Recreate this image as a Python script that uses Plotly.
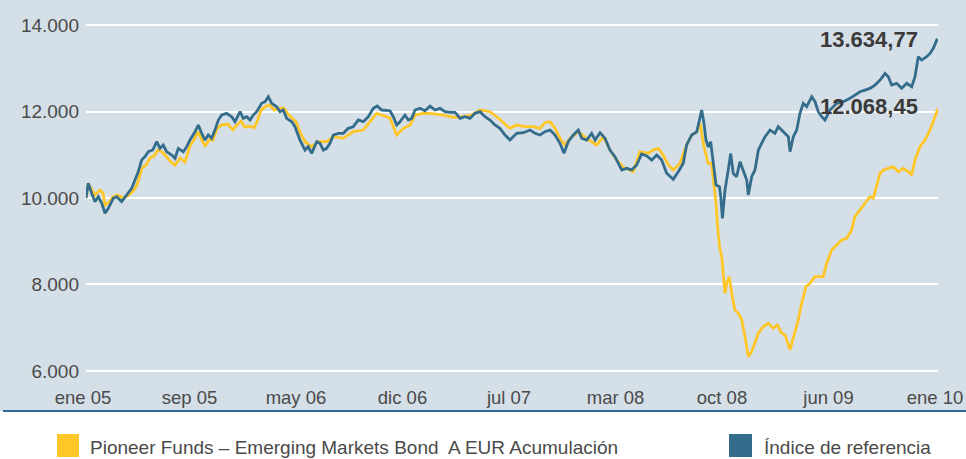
import plotly.graph_objects as go

# ---- data (months since ene 05) ----
fondo_nombre = "Pioneer Funds – Emerging Markets Bond  A EUR Acumulación"
indice_nombre = "Índice de referencia"

meses_fondo = [0.0, 0.16, 0.42, 0.63, 0.99, 1.20, 1.34, 1.62, 1.90, 2.25, 2.61, 2.96, 3.31, 3.59, 3.94, 4.23,
               4.51, 4.79, 5.07, 5.35, 5.56, 5.92, 6.27, 6.62, 6.97, 7.32, 7.68, 7.89, 8.17, 8.38, 8.66, 8.94,
               9.23, 9.58, 10.00, 10.35, 10.63, 10.92, 11.20, 11.55, 11.83, 12.04, 12.32, 12.68, 12.96, 13.24,
               13.66, 13.94, 14.23, 14.51, 14.79, 15.07, 15.42, 15.89, 16.36, 16.95, 17.42, 18.12, 18.82, 19.53,
               20.00, 20.47, 21.18, 21.41, 21.88, 22.35, 22.82, 23.17, 23.75, 24.23, 25.16, 25.87, 26.57, 27.16,
               27.75, 28.45, 28.92, 29.63, 29.86, 30.33, 30.92, 31.50, 31.97, 32.32, 32.68, 33.03, 33.38, 33.73,
               34.08, 34.67, 35.26, 35.96, 36.43, 36.90, 37.37, 37.84, 38.54, 39.01, 39.60, 39.94, 40.30, 40.65,
               41.01, 41.36, 41.83, 42.30, 42.65, 43.01, 43.24, 43.52, 43.82, 44.06, 44.23, 44.37, 44.46, 44.61,
               44.77, 44.89, 45.00, 45.12, 45.30, 45.47, 45.70, 45.94, 46.18, 46.41, 46.64, 46.88, 47.11, 47.35,
               47.70, 48.05, 48.40, 48.68, 48.99, 49.23, 49.58, 49.93, 50.16, 50.40, 50.70, 50.99, 51.34, 51.92,
               52.16, 52.51, 52.87, 53.22, 53.57, 53.92, 54.15, 54.51, 54.86, 55.21, 55.44, 55.68, 55.92, 56.15,
               56.50, 56.85, 57.20, 57.56, 57.92, 58.15, 58.38, 58.73, 59.08, 59.44, 59.79, 60.0]
valores_fondo = [10000, 10324, 10185, 10070, 10185, 10110, 9838, 9900, 10030, 10070, 10000, 10050, 10160, 10300,
                 10690, 10760, 10925, 10970, 11110, 11065, 10995, 10855, 10760, 10925, 10830, 11200, 11390, 11530,
                 11340, 11200, 11340, 11340, 11620, 11690, 11710, 11572, 11690, 11780, 11640, 11660, 11620, 11760,
                 12035, 12127, 12150, 12035, 12080, 12080, 11940, 11850, 11760, 11530, 11302, 11187, 11302, 11302,
                 11418, 11380, 11534, 11572, 11764, 11958, 11880, 11842, 11457, 11611, 11688, 11919, 11958, 11958,
                 11919, 11866, 11880, 11919, 12035, 11996, 11880, 11688, 11611, 11688, 11649, 11649, 11611, 11742,
                 11764, 11611, 11380, 11226, 11380, 11534, 11380, 11226, 11418, 11110, 10879, 10710, 10608, 11071,
                 11033, 11110, 11149, 10994, 10763, 10648, 10802, 11226, 11457, 11530, 11727, 11187, 10802, 10802,
                 10262, 9877, 9415, 8876, 8645, 8104, 7796, 8028, 8181, 7796, 7411, 7334, 7180, 6793, 6331, 6447,
                 6678, 6871, 7025, 7103, 6988, 7064, 6871, 6833, 6486, 6909, 7180, 7566, 7950, 8028, 8181, 8181,
                 8490, 8798, 8913, 9029, 9068, 9261, 9568, 9723, 9877, 10031, 9993, 10262, 10571, 10648, 10686,
                 10725, 10608, 10686, 10608, 10532, 10879, 11187, 11341, 11572, 11880, 12068.45]

meses_indice = [0.0, 0.16, 0.40, 0.63, 0.87, 1.11, 1.34, 1.57, 1.92, 2.16, 2.51, 2.87, 3.22, 3.45, 3.68, 3.92,
                4.15, 4.39, 4.70, 4.98, 5.21, 5.44, 5.68, 6.04, 6.27, 6.50, 6.85, 7.09, 7.32, 7.68, 7.91, 8.15,
                8.38, 8.61, 8.85, 9.08, 9.32, 9.56, 9.91, 10.26, 10.49, 10.85, 11.08, 11.32, 11.55, 11.78, 12.02,
                12.37, 12.61, 12.84, 13.08, 13.43, 13.66, 13.89, 14.13, 14.49, 14.72, 15.07, 15.30, 15.42, 15.65,
                15.89, 16.25, 16.48, 16.71, 16.95, 17.18, 17.42, 17.77, 18.12, 18.47, 18.82, 19.18, 19.53, 19.88,
                20.23, 20.51, 20.82, 21.41, 21.64, 21.88, 22.11, 22.46, 22.70, 22.94, 23.17, 23.52, 23.87, 24.23,
                24.58, 24.93, 25.28, 25.63, 25.99, 26.34, 26.69, 27.04, 27.39, 27.75, 28.10, 28.45, 28.80, 29.15,
                29.51, 29.86, 30.33, 30.80, 31.27, 31.62, 31.97, 32.32, 32.68, 33.03, 33.38, 33.66, 33.96, 34.32,
                34.67, 34.91, 35.26, 35.61, 35.85, 36.20, 36.55, 36.90, 37.25, 37.49, 37.73, 38.08, 38.43, 38.78,
                39.13, 39.49, 39.84, 40.19, 40.54, 40.89, 41.36, 41.71, 42.06, 42.30, 42.65, 43.01, 43.19, 43.36,
                43.52, 43.66, 43.82, 43.99, 44.18, 44.37, 44.61, 44.70, 44.82, 45.00, 45.23, 45.40, 45.58, 45.82,
                46.06, 46.29, 46.53, 46.64, 46.88, 47.11, 47.35, 47.58, 47.82, 48.17, 48.52, 48.75, 49.11, 49.46,
                49.58, 49.81, 50.05, 50.28, 50.51, 50.75, 51.11, 51.34, 51.57, 51.81, 52.04, 52.39, 52.87, 53.33,
                53.80, 54.15, 54.51, 54.86, 55.21, 55.56, 55.92, 56.27, 56.50, 56.74, 57.09, 57.44, 57.80, 58.15,
                58.38, 58.61, 58.85, 59.20, 59.44, 59.67, 59.91, 60.0]
valores_indice = [10000, 10340, 10110, 9915, 10030, 9877, 9646, 9762, 9993, 10030, 9915, 10070, 10224, 10416,
                  10608, 10879, 10955, 11071, 11110, 11302, 11149, 11226, 11071, 10994, 10918, 11149, 11071, 11187,
                  11341, 11533, 11688, 11496, 11341, 11457, 11380, 11572, 11804, 11919, 11958, 11880, 11764, 11996,
                  11842, 11880, 11804, 11919, 11996, 12190, 12227, 12342, 12190, 12111, 11996, 12035, 11842, 11764,
                  11649, 11340, 11187, 11110, 11187, 11033, 11302, 11264, 11110, 11149, 11264, 11457, 11496, 11496,
                  11611, 11649, 11804, 11764, 11880, 12074, 12127, 12035, 12019, 11880, 11688, 11764, 11919, 11804,
                  11842, 12035, 12074, 12019, 12127, 12035, 12074, 11996, 11981, 11981, 11842, 11880, 11842, 11958,
                  11996, 11880, 11804, 11688, 11611, 11457, 11341, 11496, 11511, 11572, 11496, 11457, 11534, 11572,
                  11457, 11264, 11033, 11302, 11457, 11572, 11380, 11341, 11496, 11341, 11511, 11380, 11110, 10955,
                  10802, 10648, 10686, 10648, 10763, 11019, 10973, 10879, 10994, 10879, 10571, 10432, 10608, 10802,
                  11226, 11457, 11530, 11764, 12035, 11727, 11341, 11180, 11302, 10802, 10300, 10262, 10031, 9531,
                  10185, 10648, 11033, 10571, 10493, 10840, 10648, 10416, 10070, 10493, 10648, 11110, 11264, 11418,
                  11572, 11496, 11649, 11534, 11418, 11071, 11418, 11572, 11958, 12190, 12111, 12342, 12227, 11996,
                  11880, 11804, 12035, 12190, 12227, 12305, 12382, 12458, 12497, 12536, 12613, 12728, 12883, 12805,
                  12613, 12652, 12536, 12652, 12574, 12805, 13267, 13191, 13267, 13344, 13461, 13653, 13634.77]

etiquetas_x = ["ene 05", "sep 05", "may 06", "dic 06", "jul 07", "mar 08", "oct 08", "jun 09", "ene 10"]
valores_y = [6000, 8000, 10000, 12000, 14000]
etiqueta_final_fondo = "12.068,45"
etiqueta_final_indice = "13.634,77"

# ---- styles ----
AMARILLO = "#ffc627"
AZUL = "#336d8b"
FONDO = "#d5dfe7"
TEXTO = "#4a4a4a"
FUENTE = "Liberation Sans, Arial, sans-serif"

W, H = 966, 459
ML, MR, MT, MB = 86, 28, 0, 79
pw, ph = W - ML - MR, H - MT - MB

def px_x(p):
    return (p - ML) / pw

def px_y(p):
    return (H - MB - p) / ph

fig = go.Figure()
fig.add_trace(go.Scatter(x=meses_fondo, y=valores_fondo, mode="lines", name=fondo_nombre,
                         line=dict(color=AMARILLO, width=2.8), showlegend=False))
fig.add_trace(go.Scatter(x=meses_indice, y=valores_indice, mode="lines", name=indice_nombre,
                         line=dict(color=AZUL, width=2.8), showlegend=False))

n = len(etiquetas_x)
tick_pos = [i * 60 / (n - 1) for i in range(n)]

fig.update_xaxes(range=[0, 60], tickvals=tick_pos, ticktext=etiquetas_x, showgrid=False,
                 zeroline=False, showline=False, ticks="", ticklabelstandoff=4,
                 ticklabelshift=-3, ticklabeloverflow="allow",
                 tickfont=dict(family=FUENTE, size=18.5, color=TEXTO))
fig.update_yaxes(range=[5790, 14580], tickvals=valores_y, tickformat=",.0f", showgrid=True,
                 gridcolor="white", gridwidth=2, zeroline=False, showline=False, ticks="",
                 ticklabelstandoff=6, tickfont=dict(family=FUENTE, size=19, color=TEXTO))

shapes = [
    dict(type="rect", xref="paper", yref="paper", x0=px_x(0), x1=px_x(W), y0=px_y(411), y1=px_y(0),
         fillcolor=FONDO, line=dict(width=0), layer="below"),
    dict(type="line", xref="paper", yref="paper", x0=px_x(3), x1=px_x(W), y0=px_y(411), y1=px_y(411),
         line=dict(color="#2a679a", width=2)),
    dict(type="rect", xref="paper", yref="paper", x0=px_x(57), x1=px_x(79), y0=px_y(457), y1=px_y(434),
         fillcolor=AMARILLO, line=dict(width=0)),
    dict(type="rect", xref="paper", yref="paper", x0=px_x(729), x1=px_x(752), y0=px_y(457), y1=px_y(434),
         fillcolor=AZUL, line=dict(width=0)),
]

annotations = [
    dict(x=meses_indice[-1], y=valores_indice[-1], xref="x", yref="y", text=etiqueta_final_indice,
         showarrow=False, xanchor="right", yanchor="middle", xshift=-18, yshift=1,
         font=dict(family=FUENTE, size=22, color="#3a3a3a", weight="bold")),
    dict(x=meses_fondo[-1], y=valores_fondo[-1], xref="x", yref="y", text=etiqueta_final_fondo,
         showarrow=False, xanchor="right", yanchor="middle", xshift=-18, yshift=2,
         font=dict(family=FUENTE, size=22, color="#3a3a3a", weight="bold")),
    dict(x=px_x(88), y=px_y(447), xref="paper", yref="paper", text=fondo_nombre, showarrow=False,
         xanchor="left", yanchor="middle", font=dict(family=FUENTE, size=19, color=TEXTO)),
    dict(x=px_x(762), y=px_y(447), xref="paper", yref="paper", text=indice_nombre, showarrow=False,
         xanchor="left", yanchor="middle", font=dict(family=FUENTE, size=19, color=TEXTO)),
]

fig.update_layout(width=W, height=H, margin=dict(l=ML, r=MR, t=MT, b=MB),
                  paper_bgcolor="white", plot_bgcolor="rgba(0,0,0,0)", separators=",.",
                  shapes=shapes, annotations=annotations, showlegend=False)

fig.write_html("out.html", config={"displayModeBar": False},
               post_script="document.body.style.margin='0';document.body.style.overflow='hidden';")
